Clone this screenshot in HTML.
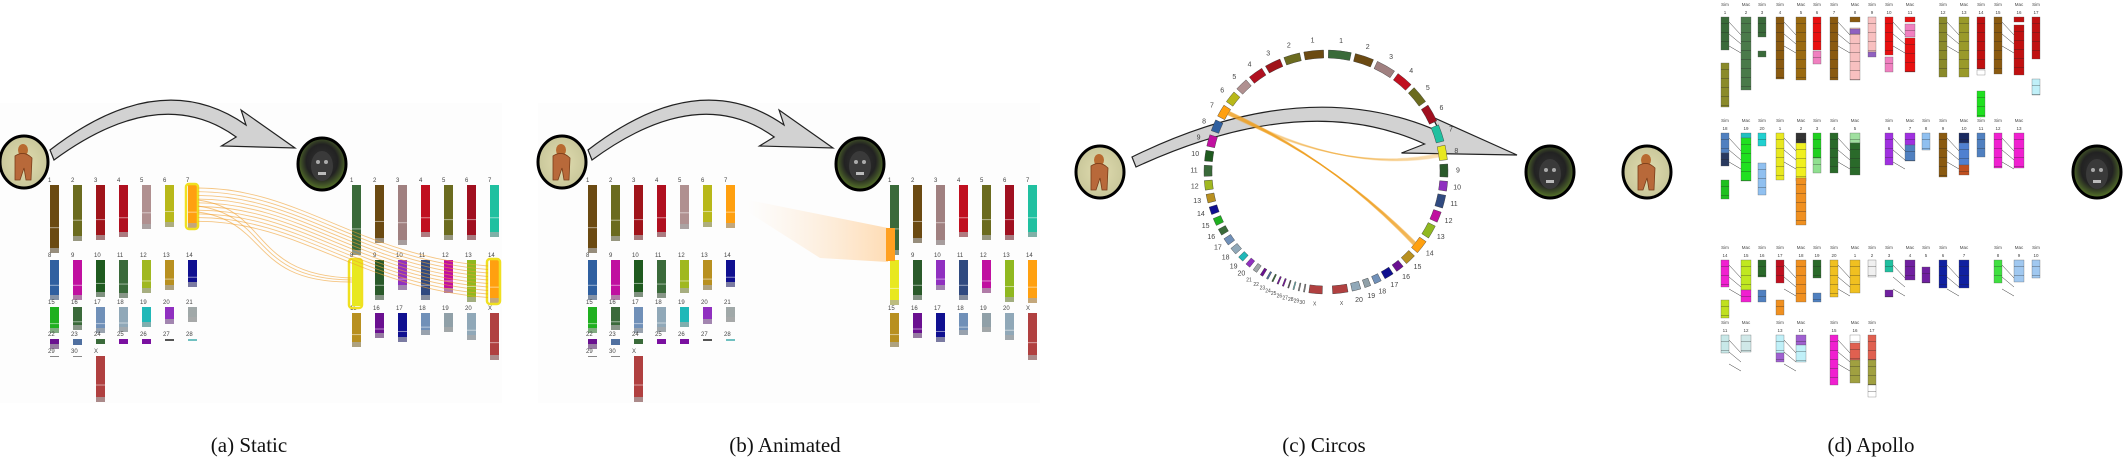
<!DOCTYPE html>
<html><head><meta charset="utf-8"><title>Synteny views</title>
<style>
html,body{margin:0;padding:0;background:#fff;}
svg{display:block;}
text{font-family:"Liberation Sans",sans-serif;}
.cap{font-family:"Liberation Serif",serif;font-size:21px;fill:#111;}
</style></head>
<body>
<svg id="fig" width="2126" height="464" viewBox="0 0 2126 464" xmlns="http://www.w3.org/2000/svg">
<defs>
<radialGradient id="gorBg" cx="50%" cy="50%" r="50%"><stop offset="0" stop-color="#e0dcb0"/><stop offset="1" stop-color="#c9c79a"/></radialGradient>
<radialGradient id="macBg" cx="50%" cy="45%" r="55%"><stop offset="0" stop-color="#333"/><stop offset="0.6" stop-color="#222"/><stop offset="1" stop-color="#5a7a2a"/></radialGradient>
<linearGradient id="streak" x1="0" y1="0" x2="1" y2="0"><stop offset="0" stop-color="#ffc080" stop-opacity="0"/><stop offset="1" stop-color="#ffa030" stop-opacity="0.35"/></linearGradient>
</defs>
<g id="panels"></g>
<text class="cap" x="249" y="452" text-anchor="middle">(a) Static</text>
<text class="cap" x="785" y="452" text-anchor="middle">(b) Animated</text>
<text class="cap" x="1324" y="452" text-anchor="middle">(c) Circos</text>
<text class="cap" x="1871" y="452" text-anchor="middle">(d) Apollo</text>
</svg>
<script>
// ---- data ----
const gorNames=["1","2","3","4","5","6","7","8","9","10","11","12","13","14","15","16","17","18","19","20","21","22","23","24","25","26","27","28","29","30","X"];
const gorLens=[68,56,55,52,44,42,43,40,40,37,38,33,30,27,26,23,26,25,20,17,15,10,6,5,5,5,2,2,1,1,46];
const gorCols=["#6b4a12","#6b6b1f","#a0141a","#b01020","#b09090","#b8b81a","#ffa010","#3060a0","#c010a0","#1f5a1f","#3a6a3a","#a0b820","#b89020","#101090","#20b020","#3a6a3a","#7090b8","#90a8b8","#20b8b8","#9030c0","#a0a8a8","#6a1090","#5070a0","#3a6a3a","#7a10a0","#7a10a0","#555555","#70c0c0","#888888","#888888","#b04040"];
const macNames=["1","2","3","4","5","6","7","8","9","10","11","12","13","14","15","16","17","18","19","20","X"];
const macLens=[70,58,60,52,55,55,52,45,40,30,40,33,42,43,34,25,29,22,19,27,47];
const macCols=["#3a6a3a","#6b4a12","#a08080","#c01020","#6b6b1f","#a01020","#20c0a0","#e8e820","#2a5a2a","#9030c0","#304a80","#c010a0","#90b820","#ffa010","#b89020","#6a1090","#101090","#7090b8","#90a0a8","#90a8b8","#b04040"];
const NS="http://www.w3.org/2000/svg";
const root=document.getElementById('panels');
function el(tag,attrs,parent){const e=document.createElementNS(NS,tag);for(const k in attrs)e.setAttribute(k,attrs[k]);(parent||root).appendChild(e);return e;}
function txt(x,y,s,size,parent,anchor){const t=el('text',{x:x,y:y,'font-size':size,fill:'#444','text-anchor':anchor||'start'},parent);t.textContent=s;return t;}

function gorilla(cx,cy,name){
 const g=el('g',{});
 
 
 el('ellipse',{cx:cx,cy:cy,rx:24,ry:26,fill:'url(#gorBg)',stroke:'#000','stroke-width':3},g);
 el('ellipse',{cx:cx-1,cy:cy-12,rx:5,ry:6,fill:'#b86a30'},g);
 el('path',{d:`M${cx-9} ${cy-6} Q${cx} ${cy-12} ${cx+8} ${cy-4} L${cx+7} ${cy+18} L${cx+2} ${cy+18} L${cx} ${cy+6} L${cx-4} ${cy+18} L${cx-9} ${cy+18} Z`,fill:'#b8693a',stroke:'#7a3d1a','stroke-width':0.8},g);
}
function macaque(cx,cy,name){
 const g=el('g',{});
 
 
 el('ellipse',{cx:cx,cy:cy,rx:24,ry:26,fill:'url(#macBg)',stroke:'#000','stroke-width':3},g);
 el('ellipse',{cx:cx,cy:cy+2,rx:11,ry:15,fill:'#3a3a3a'},g);
 el('circle',{cx:cx-4,cy:cy-2,r:2,fill:'#aaa'},g);
 el('circle',{cx:cx+4,cy:cy-2,r:2,fill:'#aaa'},g);
 el('rect',{x:cx-4,y:cy+8,width:8,height:3,fill:'#bbb'},g);
}
function bigArrow(x0,y0,name,len){
 const g=el('g',{});
 
 
 const L=len;
 const d=`M${x0} ${y0} Q${x0+L*0.45} ${y0-85} ${x0+L*0.8} ${y0-25} L${x0+L*0.78} ${y0-40} L${x0+L} ${y0-2} L${x0+L*0.7} ${y0-4} L${x0+L*0.76} ${y0-13} Q${x0+L*0.45} ${y0-68} ${x0+4} ${y0+10} Z`;
 el('path',{d:d,fill:'#d2d2d2',stroke:'#222','stroke-width':1.2},g);
}
function chrom(x,y,len,col,w,name,parent){
 const g=el('g',{},parent);
 
 
 el('rect',{x:x,y:y,width:w,height:len,fill:col},g);
 if(len>20){el('rect',{x:x,y:y+len*0.62,width:w,height:1,fill:'#fff',opacity:0.5},g);}
 if(len>8){el('rect',{x:x,y:y+len-5,width:w,height:5,fill:'#aaa',opacity:0.7},g);}
 return g;
}
function karyotype(ox,names,lens,cols,rowTops,perRow,prefix,extraXcol){
 const g=el('g',{});
 
 
 const n=names.length;
 for(let i=0;i<n;i++){
  let r=Math.floor(i/perRow),c=i%perRow;
  if(extraXcol!==undefined && i===n-1){r=rowTops.length-1;c=extraXcol;}
  const x=ox+c*23, y=rowTops[r];
  txt(x-2,y-3,names[i],6,g);
  chrom(x,y,lens[i],cols[i],9,prefix+'-chr-'+names[i],g);
 }
 return g;
}
function panelBg(x,name){
 const r=el('rect',{x:x,y:103,width:502,height:300,fill:'#fdfdfd'});
 
 
}

[0,538].forEach((off,pi)=>{
 const p=pi===0?'static':'animated';
 panelBg(off,p+'-background');
 bigArrow(off+50,150,p+'-arrow',245);
 gorilla(off+24,162,p+'-gorilla-icon');
 macaque(off+322,164,p+'-macaque-icon');
 karyotype(off+50,gorNames,gorLens,gorCols,[185,260,307,339,356],7,p+'-gorilla',2);
 karyotype(off+352,macNames,macLens,macCols,[185,260,313],7,p+'-macaque');
});
function hl(x,y,w,h,name){const r=el('rect',{x:x,y:y,width:w,height:h,rx:3,fill:'none',stroke:'#f0e020','stroke-width':2.5});}
hl(186,184,12,45,'static-highlight-gorilla-7');
hl(349,259,13,49,'static-highlight-macaque-8');
hl(487,259,13,45,'static-highlight-macaque-14');
el('rect',{x:352,y:262,width:9,height:44,fill:'#e8e820'});
(function(){
 const g=el('g',{});
 
 
 for(let k=0;k<10;k++){
  const y0=188+k*3.7, y1=266+k*3.5;
  el('path',{d:`M198 ${y0} C300 ${y0} 360 ${y1-10} 488 ${y1}`,fill:'none',stroke:'#f0a030','stroke-width':0.9,opacity:0.6},g);
 }
 for(let k=0;k<3;k++){
  el('path',{d:`M198 ${200+k*6} C270 ${210+k*6} 250 ${275+k*4} 352 ${278+k*2}`,fill:'none',stroke:'#f0a030','stroke-width':0.9,opacity:0.6},g);
 }
})();
(function(){
 const g=el('g',{});
 
 
 el('path',{d:'M748 200 L888 228 L888 262 L820 258 L748 212 Z',fill:'url(#streak)'},g);
 el('rect',{x:886,y:228,width:9,height:33,fill:'#ffa020'},g);
})();

(function(){
 const cx=1326,cy=172,R=122,RW=8;
 bigArrow(1132,157,'circos-arrow',385);
 gorilla(1100,172,'circos-gorilla-icon');
 macaque(1550,172,'circos-macaque-icon');
 const g=el('g',{});
 
 
 function pt(a,r){return [cx+r*Math.sin(a),cy-r*Math.cos(a)];}
 function arc(a0,a1,col,name){
  const [x0,y0]=pt(a0,R),[x1,y1]=pt(a1,R),[x2,y2]=pt(a1,R-RW),[x3,y3]=pt(a0,R-RW);
  const sw=a1>a0?1:0;
  const p=el('path',{d:`M${x0} ${y0} A${R} ${R} 0 0 ${sw} ${x1} ${y1} L${x2} ${y2} A${R-RW} ${R-RW} 0 0 ${1-sw} ${x3} ${y3} Z`,fill:col,stroke:'#333','stroke-width':0.4},g);
  
  
 }
 const gap=0.035, span=Math.PI-0.04;
 const mids={};
 function half(names,lens,cols,sign,pre){
  const tot=lens.reduce((a,b)=>a+b,0);
  const usable=span-gap*names.length;
  let a=0.02;
  names.forEach((n,i)=>{
   const w=Math.max(lens[i],4)/tot*usable;
   const a0=a,a1=a+w;
   arc(sign*a0,sign*a1,cols[i],pre+'-segment-'+n);
   const [lx,ly]=pt(sign*(a0+a1)/2,R+10);
   txt(lx,ly+2,n,i<20?7:5,g,'middle');
   mids[pre+n]=sign*(a0+a1)/2;
   a=a1+gap;
  });
 }
 half(macNames,macLens,macCols,1,'mac');
 half(gorNames,gorLens,gorCols,-1,'gor');
 const c=el('g',{});
 
 
 [['gor7','mac8',0.4],['gor7','mac14',1]].forEach(([a,b,op])=>{
  for(let k=0;k<6;k++){
   const [x0,y0]=pt(mids[a]+k*0.006,R-RW),[x1,y1]=pt(mids[b]+k*0.006,R-RW);
   el('path',{d:`M${x0} ${y0} Q${(x0+x1)/2+10} ${(y0+y1)/2+(b==='mac8'?40:-20)} ${x1} ${y1}`,fill:'none',stroke:'#f0a020','stroke-width':1.3,opacity:0.5*op},c);
  }
 });
})();

gorilla(1647,172,'apollo-gorilla-icon');
macaque(2097,172,'apollo-macaque-icon');
const apolloRows=[17,133,260,335];
const apolloBars=[
 [0,1721,8,[[0,33,'#3a6a3a'],[46,90,'#8a8a2a']],'Sim'],
 [0,1741,10,[[0,73,'#4a7a4a']],'Mac'],
 [0,1758,8,[[0,20,'#3a6a3a'],[34,40,'#3a6a3a']],'Sim'],
 [0,1776,8,[[0,62,'#8a5a10']],'Sim'],
 [0,1796,10,[[0,63,'#9a6a10']],'Mac'],
 [0,1813,8,[[0,33,'#e81010'],[34,47,'#f080c0']],'Sim'],
 [0,1830,8,[[0,63,'#8a5a10']],'Sim'],
 [0,1850,10,[[0,5,'#8a5a10'],[11,63,'#f8c0c0'],[12,17,'#9060c0']],'Mac'],
 [0,1868,8,[[0,35,'#f8c0c0'],[35,40,'#9060c0']],'Sim'],
 [0,1885,8,[[0,38,'#e81010'],[40,55,'#f080c0']],'Sim'],
 [0,1905,10,[[0,5,'#e81010'],[7,20,'#f080c0'],[21,55,'#e81010']],'Mac'],
 [0,1939,8,[[0,60,'#8a8a2a']],'Sim'],
 [0,1959,10,[[0,60,'#9a9a2a']],'Mac'],
 [0,1977,8,[[0,52,'#c01010'],[53,58,'#fff'],[74,100,'#20e020']],'Sim'],
 [0,1994,8,[[0,57,'#8a5a10']],'Sim'],
 [0,2014,10,[[0,5,'#c01010'],[8,58,'#c01010']],'Mac'],
 [0,2032,8,[[0,42,'#c01010'],[62,78,'#c0f0f8']],'Sim'],
 [1,1721,8,[[0,20,'#5080c0'],[20,33,'#2a3a60'],[47,66,'#20c020']],'Sim'],
 [1,1741,10,[[0,5,'#20c0c0'],[5,48,'#20e020']],'Mac'],
 [1,1758,8,[[0,13,'#20d0d0'],[30,62,'#90c0f0']],'Sim'],
 [1,1776,8,[[0,47,'#e8e820']],'Sim'],
 [1,1796,10,[[0,10,'#333'],[10,48,'#f0f020'],[45,92,'#f09020']],'Mac'],
 [1,1813,8,[[0,25,'#20d020'],[25,40,'#90e090']],'Sim'],
 [1,1830,8,[[0,40,'#2a6a2a']],'Sim'],
 [1,1850,10,[[0,10,'#a0e0a0'],[10,42,'#2a6a2a']],'Mac'],
 [1,1885,8,[[0,32,'#a030e0']],'Sim'],
 [1,1905,10,[[0,12,'#a030e0'],[12,28,'#5080c0']],'Mac'],
 [1,1922,8,[[0,17,'#90c0f0']],'Sim'],
 [1,1939,8,[[0,44,'#8a5a10']],'Sim'],
 [1,1959,10,[[0,10,'#1a2a60'],[10,32,'#5080d0'],[32,42,'#c05020']],'Mac'],
 [1,1977,8,[[0,24,'#5080c0']],'Sim'],
 [1,1994,8,[[0,35,'#f020d0']],'Sim'],
 [1,2014,10,[[0,35,'#f020d0']],'Mac'],
 [2,1721,8,[[0,27,'#f020d0'],[40,58,'#c0e020']],'Sim'],
 [2,1741,10,[[0,30,'#c0e820'],[30,42,'#f020d0']],'Mac'],
 [2,1758,8,[[0,17,'#2a6a2a'],[30,42,'#5080c0']],'Sim'],
 [2,1776,8,[[0,23,'#c01020'],[40,55,'#f09020']],'Sim'],
 [2,1796,10,[[0,42,'#f09020']],'Mac'],
 [2,1813,8,[[0,18,'#2a6a2a'],[33,42,'#5080c0']],'Sim'],
 [2,1830,8,[[0,37,'#f0c020']],'Sim'],
 [2,1850,10,[[0,33,'#f0c020']],'Mac'],
 [2,1868,8,[[0,17,'#f0f0f0']],'Sim'],
 [2,1885,8,[[0,12,'#20c0a0'],[30,37,'#7020a0']],'Sim'],
 [2,1905,10,[[0,20,'#7020a0']],'Mac'],
 [2,1922,8,[[7,23,'#7020a0']],'Sim'],
 [2,1939,8,[[0,28,'#1020a0']],'Sim'],
 [2,1959,10,[[0,28,'#1020a0']],'Mac'],
 [2,1994,8,[[0,23,'#40e040']],'Sim'],
 [2,2014,10,[[0,22,'#a0c8f0']],'Mac'],
 [2,2032,8,[[0,18,'#a0c8f0']],'Sim'],
 [3,1721,8,[[0,18,'#c8e8e8']],'Sim'],
 [3,1741,10,[[0,17,'#d0e8e8']],'Mac'],
 [3,1776,8,[[0,18,'#c0f0f8'],[18,27,'#a060d0']],'Sim'],
 [3,1796,10,[[0,10,'#a060d0'],[10,27,'#c0f0f8']],'Mac'],
 [3,1830,8,[[0,50,'#f020d0']],'Sim'],
 [3,1850,10,[[0,8,'#fff'],[8,25,'#e06050'],[25,48,'#a0a040']],'Mac'],
 [3,1868,8,[[0,25,'#e06050'],[25,50,'#a0a040'],[50,62,'#fff']],'Sim']
];
(function(){
 const g=el('g',{});
 
 
 apolloBars.forEach((b,i)=>{
  const [row,x,w,segs,sp]=b;
  const y0=apolloRows[row];
  txt(x+w/2,y0-11,sp,4.5,g,'middle');
  txt(x+w/2,y0-3,String(i%20+1),4.5,g,'middle');
  const bg=el('g',{},g);
  
  
  segs.forEach(s=>{el('rect',{x:x,y:y0+s[0],width:w,height:s[1]-s[0],fill:s[2],stroke:'#555','stroke-width':0.3},bg);
   for(let yy=s[0]+6;yy<s[1];yy+=9) el('rect',{x:x,y:y0+yy,width:w,height:0.6,fill:'#222',opacity:0.5},bg);});
  if(sp==='Mac' && i>0){
   const pb=apolloBars[i-1];
   if(pb[0]===row){
    for(let k=0;k<3;k++) el('line',{x1:pb[1]+pb[2],y1:y0+5+k*12,x2:x,y2:y0+18+k*9,stroke:'#333','stroke-width':0.5},g);
   }
  }
 });
})();
</script>
</body></html>
